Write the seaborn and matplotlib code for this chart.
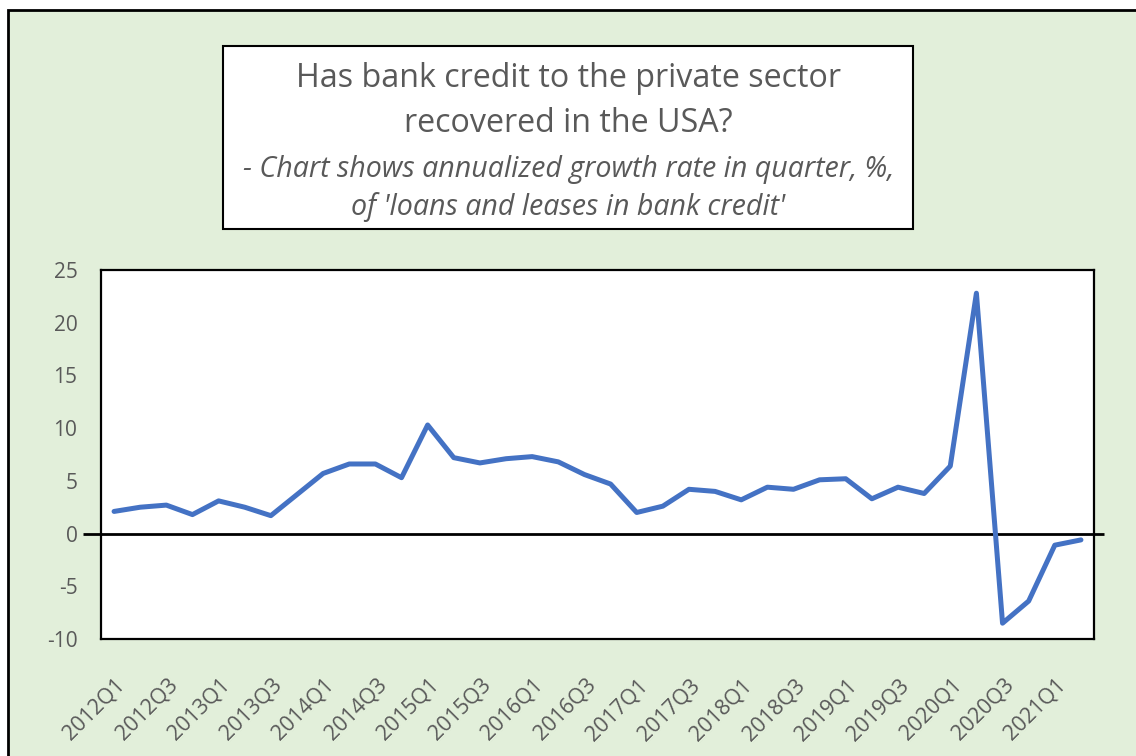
import numpy as np
import pandas as pd
import matplotlib
matplotlib.use("Agg")
import matplotlib.pyplot as plt
import matplotlib.patches as mpatches
import matplotlib.transforms as mtransforms
import seaborn as sns

# ---- data ----
quarters = [f"{y}Q{q}" for y in range(2012, 2022) for q in range(1, 5)][:38]
growth = [2.1, 2.5, 2.7, 1.8, 3.1, 2.5, 1.7, 3.7,
          5.7, 6.6, 6.6, 5.3, 10.3, 7.2, 6.7, 7.1,
          7.3, 6.8, 5.6, 4.7, 2.0, 2.6, 4.2, 4.0,
          3.2, 4.4, 4.2, 5.1, 5.2, 3.3, 4.4, 3.8,
          6.4, 22.8, -8.5, -6.4, -1.1, -0.6]
yticks = [-10, -5, 0, 5, 10, 15, 20, 25]
title_lines = ["Has bank credit to the private sector", "recovered in the USA?"]
subtitle_lines = ["- Chart shows annualized growth rate in quarter, %,",
                  "of 'loans and leases in bank credit'"]

df = pd.DataFrame({"quarter": quarters, "growth": growth})

sns.set_theme(style="white")
plt.rcParams["font.family"] = ["Open Sans", "DejaVu Sans"]

W, H = 1136, 756
fig = plt.figure(figsize=(W / 100, H / 100), dpi=100, facecolor="white")

def fx(x):
    return x / W

def fy(y):
    return 1 - y / H

# green chart area with border on top/left
bg = mpatches.Rectangle((fx(8), -0.02), 1.1, fy(10) + 0.02, transform=fig.transFigure,
                        facecolor="#E2EFDA", edgecolor="black", linewidth=2, zorder=0)
fig.patches.append(bg)

# title box
tb = mpatches.Rectangle((fx(223), fy(229)), fx(913) - fx(223), fy(46) - fy(229),
                        transform=fig.transFigure, facecolor="white",
                        edgecolor="black", linewidth=1.5, zorder=1)
fig.patches.append(tb)

grey = "#595959"
cx = fx(568.5)
fig.text(cx, fy(86.7), title_lines[0], ha="center", va="baseline", fontsize=23.2,
         color=grey, zorder=2)
fig.text(cx, fy(131.7), title_lines[1], ha="center", va="baseline", fontsize=23.2,
         color=grey, zorder=2)
fig.text(cx, fy(176.7), subtitle_lines[0], ha="center", va="baseline", fontsize=20.6,
         color=grey, style="italic", zorder=2)
fig.text(cx, fy(215), subtitle_lines[1], ha="center", va="baseline", fontsize=20.6,
         color=grey, style="italic", zorder=2)

# plot area
ax = fig.add_axes([fx(101), fy(639), fx(1094) - fx(101), fy(270) - fy(639)])
ax.set_facecolor("white")
ax.set_zorder(1)

sns.lineplot(data=df, x="quarter", y="growth", ax=ax, color="#4472C4",
             linewidth=3.6, sort=False, zorder=3)

ax.hlines(0, -1.19, 37.88, colors="black", linewidth=2, clip_on=False, zorder=2)

ax.set_xlim(-0.5, len(quarters) - 0.5)
ax.set_ylim(-10, 25)
ax.set_yticks(yticks)
ax.set_yticklabels([str(v) for v in yticks])
ax.set_xticks(range(0, len(quarters), 2))
ax.set_xticklabels(quarters[::2])
ax.set_xlabel("")
ax.set_ylabel("")

for s in ax.spines.values():
    s.set_visible(True)
    s.set_color("black")
    s.set_linewidth(1.6)

ax.tick_params(axis="y", length=0, pad=17, labelsize=15, labelcolor=grey)
ax.tick_params(axis="x", length=0, pad=31, labelsize=15.5, labelcolor=grey)
offset = mtransforms.ScaledTranslation(0.08, 0, fig.dpi_scale_trans)
for lab in ax.get_xticklabels():
    lab.set_rotation(45)
    lab.set_ha("right")
    lab.set_va("center")
    lab.set_rotation_mode("anchor")
    lab.set_transform(lab.get_transform() + offset)

fig.savefig("out.png", dpi=100, facecolor="white")
